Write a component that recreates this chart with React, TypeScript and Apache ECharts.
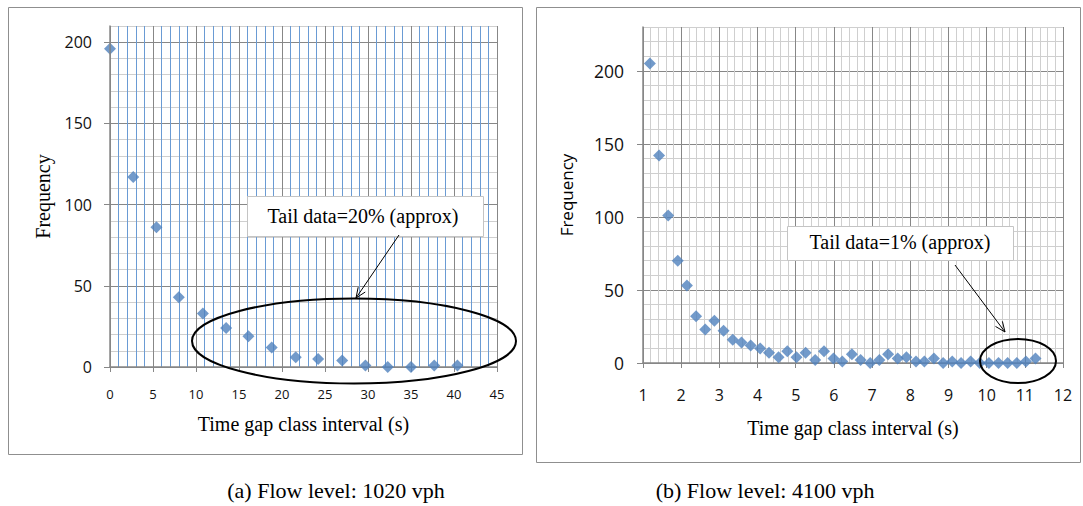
import React, { useEffect, useRef } from "react";
import * as echarts from "echarts";

// ---- Data ----
const leftX = [0, 2.7, 5.4, 8.0, 10.8, 13.5, 16.1, 18.8, 21.6, 24.2, 27.0, 29.7, 32.3, 35.0, 37.7, 40.4];
const leftY = [196, 117, 86, 43, 33, 24, 19, 12, 6, 5, 4, 1, 0, 0, 1, 1];

const rightX = [
  1.18, 1.42, 1.66, 1.91, 2.15, 2.39, 2.63, 2.87, 3.11, 3.35, 3.58, 3.82, 4.07, 4.3, 4.55,
  4.78, 5.02, 5.26, 5.51, 5.74, 5.99, 6.22, 6.47, 6.7, 6.95, 7.19, 7.42, 7.67, 7.9, 8.15,
  8.37, 8.62, 8.86, 9.1, 9.33, 9.58, 9.82, 10.06, 10.31, 10.55, 10.79, 11.03, 11.28,
];
const rightY = [
  205, 142, 101, 70, 53, 32, 23, 29, 22, 16, 14, 12, 10, 7, 4,
  8, 4, 7, 2, 8, 3, 1, 6, 2, 0, 2, 6, 3, 4, 1,
  1, 3, 0, 1, 0, 1, 0, 0, 0, 0, 0, 1, 3,
];

const yTickValues = [0, 50, 100, 150, 200];
const xTitle = "Time gap class interval (s)";
const yTitle = "Frequency";
const captionA = "(a) Flow level: 1020 vph";
const captionB = "(b) Flow level: 4100 vph";
const noteA = "Tail data=20% (approx)";
const noteB = "Tail data=1% (approx)";

const SERIF = "'Liberation Serif', 'Times New Roman', serif";
const SANS = "'Open Sans', 'Noto Sans', sans-serif";
const MAJOR = "#878787";
const MINOR = "#cfcfcf";
const BLUE_MINOR = "#6a9bd4";
const MARK = "#4F81BD";

function arrow(x1: number, y1: number, x2: number, y2: number) {
  const a = Math.atan2(y2 - y1, x2 - x1);
  const head = 11;
  const ang = 0.4;
  const p1 = [x2 - head * Math.cos(a - ang), y2 - head * Math.sin(a - ang)];
  const p2 = [x2 - head * Math.cos(a + ang), y2 - head * Math.sin(a + ang)];
  return [
    { type: "line", z: 100, shape: { x1, y1, x2, y2 }, style: { stroke: "#000", lineWidth: 1 } },
    {
      type: "polyline",
      z: 100,
      shape: { points: [p1, [x2, y2], p2] },
      style: { stroke: "#000", fill: null, lineWidth: 1 },
    },
  ];
}

export default function App() {
  const ref = useRef<HTMLDivElement>(null);

  useEffect(() => {
    if (!ref.current) return;
    const chart = echarts.init(ref.current, undefined, { renderer: "svg" });

    const yMain = (grid: number, max: number, labelSize: number, nameGap: number, nameFont: string, nameSize: number, labelMargin: number) => ({
      gridIndex: grid,
      type: "value",
      min: 0,
      max,
      interval: 10,
      name: yTitle,
      nameLocation: "middle",
      nameGap,
      nameTextStyle: { fontFamily: nameFont, fontSize: nameSize, color: "#000" },
      axisLine: { show: true, lineStyle: { color: MAJOR, width: 1.5 } },
      axisTick: { show: true, customValues: yTickValues, length: 6, lineStyle: { color: MAJOR } },
      axisLabel: {
        customValues: yTickValues,
        fontFamily: SANS,
        fontSize: labelSize,
        color: "#111",
        margin: labelMargin,
      },
      splitLine: { show: false },
      z: 5,
    });

    const yGridLines = (grid: number, max: number) => ({
      gridIndex: grid,
      type: "value",
      min: 0,
      max,
      interval: 10,
      axisLine: { show: false },
      axisTick: { show: false },
      axisLabel: { show: false },
      splitLine: { show: true, lineStyle: { color: [MAJOR, MINOR, MINOR, MINOR, MINOR], width: 1 } },
    });

    chart.setOption({
      animation: false,
      backgroundColor: "#fff",
      grid: [
        { left: 110, top: 26, width: 387, height: 341, containLabel: false, outerBoundsMode: "none" },
        { left: 643, top: 27, width: 420, height: 336, containLabel: false, outerBoundsMode: "none" },
      ],
      xAxis: [
        {
          gridIndex: 0,
          type: "value",
          min: 0,
          max: 45,
          interval: 5,
          name: xTitle,
          nameLocation: "middle",
          nameGap: 47,
          nameTextStyle: { fontFamily: SERIF, fontSize: 20, color: "#000" },
          axisLine: { show: true, lineStyle: { color: MAJOR, width: 1.5 } },
          axisTick: { show: true, length: 5, lineStyle: { color: MAJOR } },
          axisLabel: { fontFamily: SANS, fontSize: 13, color: "#111", margin: 20 },
          splitLine: { show: true, lineStyle: { color: MAJOR, width: 1 } },
          minorTick: { show: false, splitNumber: 5 },
          minorSplitLine: { show: true, lineStyle: { color: BLUE_MINOR, width: 1 } },
        },
        {
          gridIndex: 1,
          type: "value",
          min: 1,
          max: 12,
          interval: 1,
          name: xTitle,
          nameLocation: "middle",
          nameGap: 55,
          nameTextStyle: { fontFamily: SERIF, fontSize: 20, color: "#000" },
          axisLine: { show: true, lineStyle: { color: MAJOR, width: 1.5 } },
          axisTick: { show: true, length: 5, lineStyle: { color: MAJOR } },
          axisLabel: { fontFamily: SANS, fontSize: 16, color: "#111", margin: 24 },
          splitLine: { show: true, lineStyle: { color: MAJOR, width: 1 } },
          minorTick: { show: false, splitNumber: 5 },
          minorSplitLine: { show: true, lineStyle: { color: MINOR, width: 1 } },
        },
      ],
      yAxis: [
        yMain(0, 210, 16, 57, SERIF, 20, 18),
        yGridLines(0, 210),
        yMain(1, 230, 17.5, 68, SANS, 17, 19),
        yGridLines(1, 230),
      ],
      series: [
        {
          type: "scatter",
          xAxisIndex: 0,
          yAxisIndex: 0,
          symbol: "diamond",
          symbolSize: 12,
          itemStyle: { color: MARK },
          data: leftX.map((x, i) => [x, leftY[i]]),
        },
        {
          type: "scatter",
          xAxisIndex: 1,
          yAxisIndex: 2,
          symbol: "diamond",
          symbolSize: 12,
          itemStyle: { color: MARK },
          data: rightX.map((x, i) => [x, rightY[i]]),
        },
      ],
      graphic: [
        // panel frames
        { type: "rect", z: -10, silent: true, shape: { x: 8.5, y: 7.5, width: 514, height: 447 }, style: { fill: null, stroke: "#8f8f8f", lineWidth: 1 } },
        { type: "rect", z: -10, silent: true, shape: { x: 536.5, y: 7.5, width: 544, height: 455 }, style: { fill: null, stroke: "#8f8f8f", lineWidth: 1 } },
        // annotation boxes
        { type: "rect", z: 100, shape: { x: 247.5, y: 196.5, width: 236, height: 40 }, style: { fill: "#fff", stroke: "#c4c4c4", lineWidth: 1 } },
        { type: "text", z: 101, x: 363, y: 216, style: { text: noteA, fontFamily: SERIF, fontSize: 20, fill: "#000", align: "center", verticalAlign: "middle" } },
        { type: "rect", z: 100, shape: { x: 787.5, y: 226.5, width: 226, height: 34 }, style: { fill: "#fff", stroke: "#c4c4c4", lineWidth: 1 } },
        { type: "text", z: 101, x: 900, y: 242, style: { text: noteB, fontFamily: SERIF, fontSize: 20, fill: "#000", align: "center", verticalAlign: "middle" } },
        ...arrow(399, 235, 356, 298),
        ...arrow(955, 265, 1005, 332),
        // ellipses
        { type: "ellipse", z: 100, shape: { cx: 354, cy: 341, rx: 162, ry: 42.5 }, style: { fill: null, stroke: "#000", lineWidth: 2 } },
        { type: "ellipse", z: 100, shape: { cx: 1018, cy: 361, rx: 38, ry: 22 }, style: { fill: null, stroke: "#000", lineWidth: 2 } },
        // captions
        { type: "text", x: 336, y: 490, style: { text: captionA, fontFamily: SERIF, fontSize: 22, fill: "#000", align: "center", verticalAlign: "middle" } },
        { type: "text", x: 765, y: 490, style: { text: captionB, fontFamily: SERIF, fontSize: 22, fill: "#000", align: "center", verticalAlign: "middle" } },
      ],
    });

    return () => chart.dispose();
  }, []);

  return (
    <div
      ref={ref}
      style={{ position: "fixed", left: 0, top: 0, width: 1083, height: 506, background: "#fff" }}
    />
  );
}
